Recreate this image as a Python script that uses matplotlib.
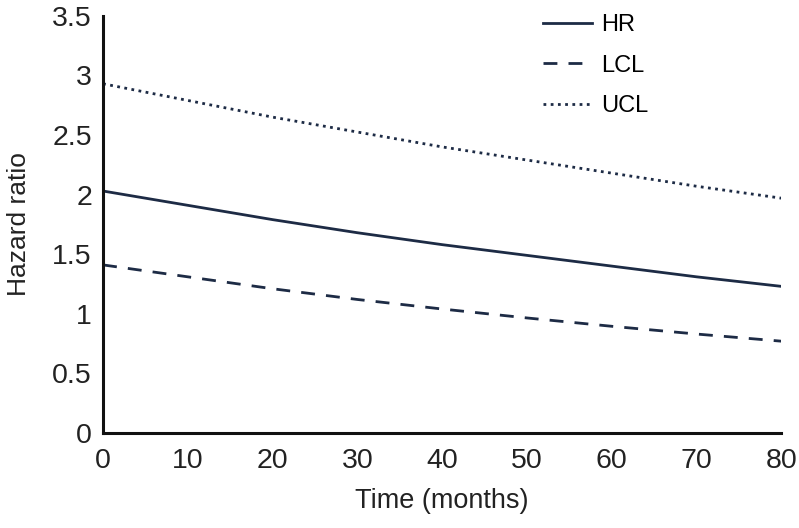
import matplotlib
matplotlib.use("Agg")
import matplotlib.pyplot as plt

# values
months = [0, 10, 20, 30, 40, 50, 60, 70, 80]
hr = [2.03, 1.91, 1.79, 1.68, 1.58, 1.49, 1.40, 1.31, 1.23]
lcl = [1.41, 1.31, 1.21, 1.12, 1.04, 0.965, 0.895, 0.83, 0.77]
ucl = [2.93, 2.79, 2.65, 2.525, 2.40, 2.29, 2.18, 2.07, 1.97]

plt.rcParams['font.family'] = ['Liberation Sans', 'DejaVu Sans']
navy = '#1d2b45'
txt = '#222222'

fig = plt.figure(figsize=(7.99, 5.28), dpi=100)
ax = fig.add_axes([0.129, 0.180, 0.849, 0.790])

ax.plot(months, hr, color=navy, lw=2.0, label='HR')
ax.plot(months, lcl, color=navy, lw=2.0, ls=(0, (5, 4)), label='LCL')
ax.plot(months, ucl, color=navy, lw=2.0, ls=(0, (1, 1.6)), label='UCL')

ax.set_xlim(0, 80)
ax.set_ylim(0, 3.5)
ax.set_xticks(range(0, 81, 10))
ax.set_yticks([0, 0.5, 1, 1.5, 2, 2.5, 3, 3.5])
ax.set_yticklabels(['0', '0.5', '1', '1.5', '2', '2.5', '3', '3.5'])
ax.tick_params(length=0, labelsize=20.5, colors=txt)
ax.tick_params(axis='x', pad=11)
ax.tick_params(axis='y', pad=8)

for s in ['top', 'right']:
    ax.spines[s].set_visible(False)
for s in ['left', 'bottom']:
    ax.spines[s].set_linewidth(2.2)
    ax.spines[s].set_color('#111111')

ax.set_xlabel('Time (months)', fontsize=19.5, labelpad=10, color=txt)
ax.set_ylabel('Hazard ratio', fontsize=19, labelpad=15, color=txt)

ax.legend(loc='upper left', bbox_to_anchor=(0.617, 1.055), frameon=False,
          fontsize=17, handlelength=2.1, labelspacing=0.78, handletextpad=0.35)

fig.savefig('out.png', dpi=100)
